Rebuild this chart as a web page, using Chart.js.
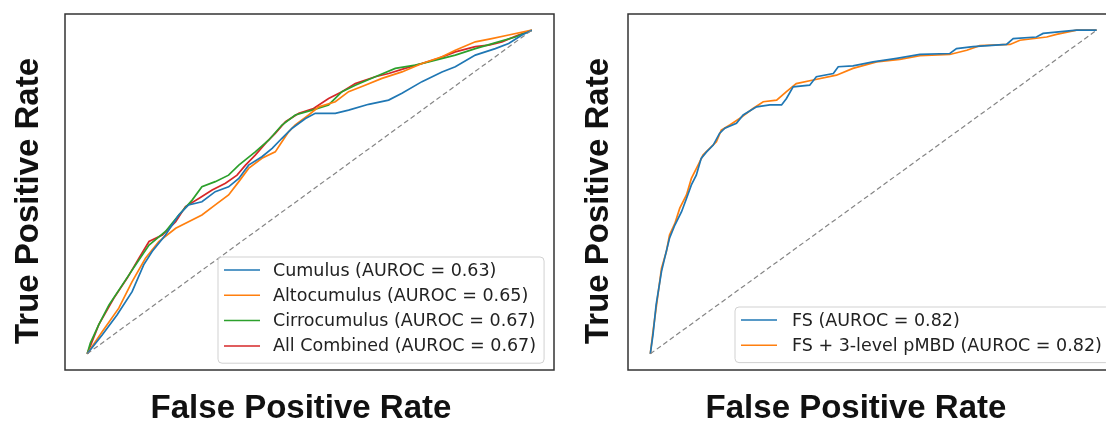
<!DOCTYPE html>
<html>
<head>
<meta charset="utf-8">
<script src="https://cdn.jsdelivr.net/npm/chart.js@4.4.0/dist/chart.umd.min.js"></script>
<style>
  html, body { margin: 0; padding: 0; background: #fff; }
  body { width: 1106px; height: 422px; overflow: hidden; position: relative; }
  canvas { position: absolute; top: 0; }
  #leftChart { left: 0; }
  #rightChart { left: 570px; }
</style>
</head>
<body>
<canvas id="leftChart" width="570" height="422"></canvas>
<canvas id="rightChart" width="570" height="422"></canvas>
<script>
// --- Data ---
const chanceFpr = [0, 1];
const chanceTpr = [0, 1];

// left panel: cloud types
const cumulusFpr = [0, 0.034, 0.067, 0.101, 0.127, 0.146, 0.176, 0.206, 0.228, 0.258, 0.288, 0.318, 0.341, 0.363, 0.393, 0.416, 0.438, 0.461, 0.491, 0.513, 0.558, 0.588, 0.633, 0.678, 0.708, 0.753, 0.798, 0.828, 0.873, 0.918, 0.948, 0.978, 1];
const cumulusTpr = [0, 0.059, 0.120, 0.192, 0.275, 0.316, 0.367, 0.429, 0.460, 0.470, 0.501, 0.516, 0.542, 0.583, 0.609, 0.635, 0.666, 0.697, 0.727, 0.743, 0.743, 0.753, 0.771, 0.784, 0.805, 0.841, 0.871, 0.887, 0.923, 0.943, 0.959, 0.985, 1];

const altoFpr = [0, 0.034, 0.071, 0.101, 0.131, 0.161, 0.199, 0.228, 0.258, 0.288, 0.318, 0.341, 0.363, 0.393, 0.423, 0.438, 0.453, 0.468, 0.498, 0.521, 0.558, 0.588, 0.625, 0.663, 0.708, 0.753, 0.798, 0.828, 0.873, 0.910, 0.948, 1];
const altoTpr = [0, 0.069, 0.141, 0.223, 0.295, 0.347, 0.388, 0.408, 0.429, 0.460, 0.491, 0.532, 0.573, 0.604, 0.624, 0.655, 0.686, 0.707, 0.738, 0.763, 0.779, 0.810, 0.830, 0.851, 0.871, 0.897, 0.918, 0.938, 0.964, 0.974, 0.985, 1];

const cirroFpr = [0, 0.007, 0.026, 0.049, 0.079, 0.109, 0.139, 0.176, 0.206, 0.236, 0.258, 0.288, 0.318, 0.341, 0.378, 0.408, 0.438, 0.468, 0.506, 0.543, 0.573, 0.603, 0.648, 0.693, 0.738, 0.768, 0.828, 0.873, 0.925, 0.963, 1];
const cirroTpr = [0, 0.033, 0.090, 0.151, 0.213, 0.275, 0.336, 0.378, 0.429, 0.475, 0.516, 0.532, 0.552, 0.583, 0.624, 0.660, 0.707, 0.738, 0.753, 0.769, 0.810, 0.830, 0.856, 0.882, 0.892, 0.902, 0.923, 0.943, 0.964, 0.979, 1];

const allFpr = [0, 0.026, 0.060, 0.090, 0.116, 0.139, 0.169, 0.199, 0.221, 0.251, 0.281, 0.311, 0.337, 0.356, 0.378, 0.404, 0.423, 0.446, 0.476, 0.509, 0.543, 0.573, 0.603, 0.648, 0.678, 0.715, 0.753, 0.790, 0.828, 0.873, 0.903, 0.933, 0.970, 1];
const allTpr = [0, 0.090, 0.172, 0.234, 0.295, 0.347, 0.367, 0.408, 0.455, 0.480, 0.506, 0.527, 0.552, 0.583, 0.614, 0.655, 0.681, 0.717, 0.743, 0.758, 0.789, 0.810, 0.835, 0.856, 0.866, 0.882, 0.897, 0.913, 0.933, 0.949, 0.954, 0.964, 0.985, 1];

// right panel: FS vs FS + 3-level pMBD
const fsFpr = [0, 0.006, 0.013, 0.025, 0.032, 0.043, 0.055, 0.070, 0.081, 0.092, 0.103, 0.114, 0.126, 0.141, 0.155, 0.167, 0.193, 0.208, 0.238, 0.268, 0.294, 0.305, 0.320, 0.357, 0.372, 0.410, 0.421, 0.454, 0.499, 0.552, 0.604, 0.671, 0.686, 0.723, 0.798, 0.813, 0.865, 0.880, 0.903, 0.955, 1];
const fsTpr = [0, 0.059, 0.151, 0.254, 0.295, 0.357, 0.398, 0.439, 0.480, 0.522, 0.552, 0.604, 0.624, 0.645, 0.681, 0.697, 0.712, 0.738, 0.763, 0.769, 0.769, 0.789, 0.825, 0.830, 0.856, 0.866, 0.887, 0.890, 0.902, 0.913, 0.925, 0.928, 0.943, 0.949, 0.956, 0.974, 0.979, 0.990, 0.993, 1, 1];

const pmbdFpr = [0, 0.006, 0.017, 0.025, 0.036, 0.043, 0.055, 0.066, 0.081, 0.092, 0.107, 0.118, 0.133, 0.148, 0.159, 0.178, 0.200, 0.230, 0.253, 0.283, 0.305, 0.327, 0.365, 0.417, 0.454, 0.507, 0.559, 0.604, 0.671, 0.709, 0.738, 0.806, 0.828, 0.888, 0.910, 0.955, 1];
const pmbdTpr = [0, 0.069, 0.182, 0.264, 0.316, 0.367, 0.403, 0.450, 0.491, 0.542, 0.583, 0.614, 0.635, 0.655, 0.691, 0.707, 0.727, 0.758, 0.779, 0.784, 0.810, 0.835, 0.846, 0.861, 0.882, 0.902, 0.910, 0.921, 0.925, 0.938, 0.952, 0.956, 0.969, 0.979, 0.987, 1, 1];

const leftLabels = ['Cumulus (AUROC = 0.63)', 'Altocumulus (AUROC = 0.65)', 'Cirrocumulus (AUROC = 0.67)', 'All Combined (AUROC = 0.67)'];
const rightLabels = ['FS (AUROC = 0.82)', 'FS + 3-level pMBD (AUROC = 0.82)'];

const COLORS = ['#1f77b4', '#ff7f0e', '#2ca02c', '#d62728'];
const LABEL_FONT = 'bold 33px "Liberation Sans", Arial, sans-serif';
const LEGEND_FONT = '17.5px "DejaVu Sans", sans-serif';

// --- Helpers ---
function toPoints(xs, ys) {
  return xs.map((x, i) => ({ x: x, y: ys[i] }));
}

function rocLine(label, xs, ys, color) {
  return {
    label: label,
    data: toPoints(xs, ys),
    borderColor: color,
    borderWidth: 1.7,
    pointRadius: 0,
    tension: 0,
    fill: false
  };
}

function chanceLine() {
  return {
    label: '_chance',
    data: toPoints(chanceFpr, chanceTpr),
    borderColor: '#858585',
    borderWidth: 1.2,
    borderDash: [5, 3],
    pointRadius: 0,
    fill: false
  };
}

// frame + axis labels, like matplotlib spines
const framePlugin = {
  id: 'frame',
  afterDraw(chart, args, opts) {
    const { ctx, chartArea: a } = chart;
    ctx.save();
    ctx.strokeStyle = '#333';
    ctx.lineWidth = 1.5;
    ctx.strokeRect(a.left, a.top, a.right - a.left, a.bottom - a.top);

    ctx.fillStyle = '#111';
    ctx.font = LABEL_FONT;
    ctx.textAlign = 'center';
    ctx.textBaseline = 'alphabetic';
    ctx.fillText(opts.xTitle, opts.xTitleX, opts.xTitleY);

    ctx.translate(opts.yTitleX, opts.yTitleY);
    ctx.rotate(-Math.PI / 2);
    ctx.fillText(opts.yTitle, 0, 0);
    ctx.restore();
  }
};

// legend box in the lower right of the axes
const rocLegendPlugin = {
  id: 'rocLegend',
  afterDatasetsDraw(chart, args, opts) {
    const { ctx } = chart;
    const sets = chart.data.datasets.filter(d => !d.label.startsWith('_'));
    ctx.save();
    ctx.font = LEGEND_FONT;
    const textW = Math.max(...sets.map(d => ctx.measureText(d.label).width));
    const w = opts.textOffset + textW + 8;
    const h = sets.length * opts.rowH + 5;
    const x = opts.x, y = opts.y;
    const r = 4;

    ctx.beginPath();
    ctx.moveTo(x + r, y);
    ctx.arcTo(x + w, y, x + w, y + h, r);
    ctx.arcTo(x + w, y + h, x, y + h, r);
    ctx.arcTo(x, y + h, x, y, r);
    ctx.arcTo(x, y, x + w, y, r);
    ctx.closePath();
    ctx.fillStyle = 'rgba(255,255,255,0.85)';
    ctx.fill();
    ctx.strokeStyle = 'rgba(204,204,204,0.9)';
    ctx.lineWidth = 1;
    ctx.stroke();

    ctx.textAlign = 'left';
    ctx.textBaseline = 'middle';
    sets.forEach((d, i) => {
      const cy = y + 13 + i * opts.rowH;
      ctx.beginPath();
      ctx.strokeStyle = d.borderColor;
      ctx.lineWidth = 1.5;
      ctx.moveTo(x + 6, cy);
      ctx.lineTo(x + 42, cy);
      ctx.stroke();
      ctx.fillStyle = '#222';
      ctx.fillText(d.label, x + opts.textOffset, cy + 1);
    });
    ctx.restore();
  }
};

function baseOptions(padding, frameOpts, legendOpts) {
  return {
    responsive: false,
    animation: false,
    layout: { padding: padding },
    scales: {
      x: { type: 'linear', min: -0.05, max: 1.05, display: false },
      y: { type: 'linear', min: -0.05, max: 1.05, display: false }
    },
    plugins: {
      legend: { display: false },
      tooltip: { enabled: false },
      frame: frameOpts,
      rocLegend: legendOpts
    }
  };
}

// --- Left chart ---
new Chart(document.getElementById('leftChart'), {
  type: 'line',
  data: {
    datasets: [
      chanceLine(),
      rocLine(leftLabels[0], cumulusFpr, cumulusTpr, COLORS[0]),
      rocLine(leftLabels[1], altoFpr, altoTpr, COLORS[1]),
      rocLine(leftLabels[2], cirroFpr, cirroTpr, COLORS[2]),
      rocLine(leftLabels[3], allFpr, allTpr, COLORS[3])
    ]
  },
  options: baseOptions(
    { left: 65, top: 14, right: 16, bottom: 52 },
    { xTitle: 'False Positive Rate', xTitleX: 301, xTitleY: 418,
      yTitle: 'True Positive Rate', yTitleX: 38, yTitleY: 201 },
    { x: 218, y: 257, rowH: 25.3, textOffset: 55 }
  ),
  plugins: [framePlugin, rocLegendPlugin]
});

// --- Right chart ---
new Chart(document.getElementById('rightChart'), {
  type: 'line',
  data: {
    datasets: [
      chanceLine(),
      rocLine(rightLabels[0], fsFpr, fsTpr, COLORS[0]),
      rocLine(rightLabels[1], pmbdFpr, pmbdTpr, COLORS[1])
    ]
  },
  options: baseOptions(
    { left: 58, top: 14, right: 21, bottom: 52 },
    { xTitle: 'False Positive Rate', xTitleX: 286, xTitleY: 418,
      yTitle: 'True Positive Rate', yTitleX: 38, yTitleY: 201 },
    { x: 165, y: 307, rowH: 25.3, textOffset: 57 }
  ),
  plugins: [framePlugin, rocLegendPlugin]
});
</script>
</body>
</html>
